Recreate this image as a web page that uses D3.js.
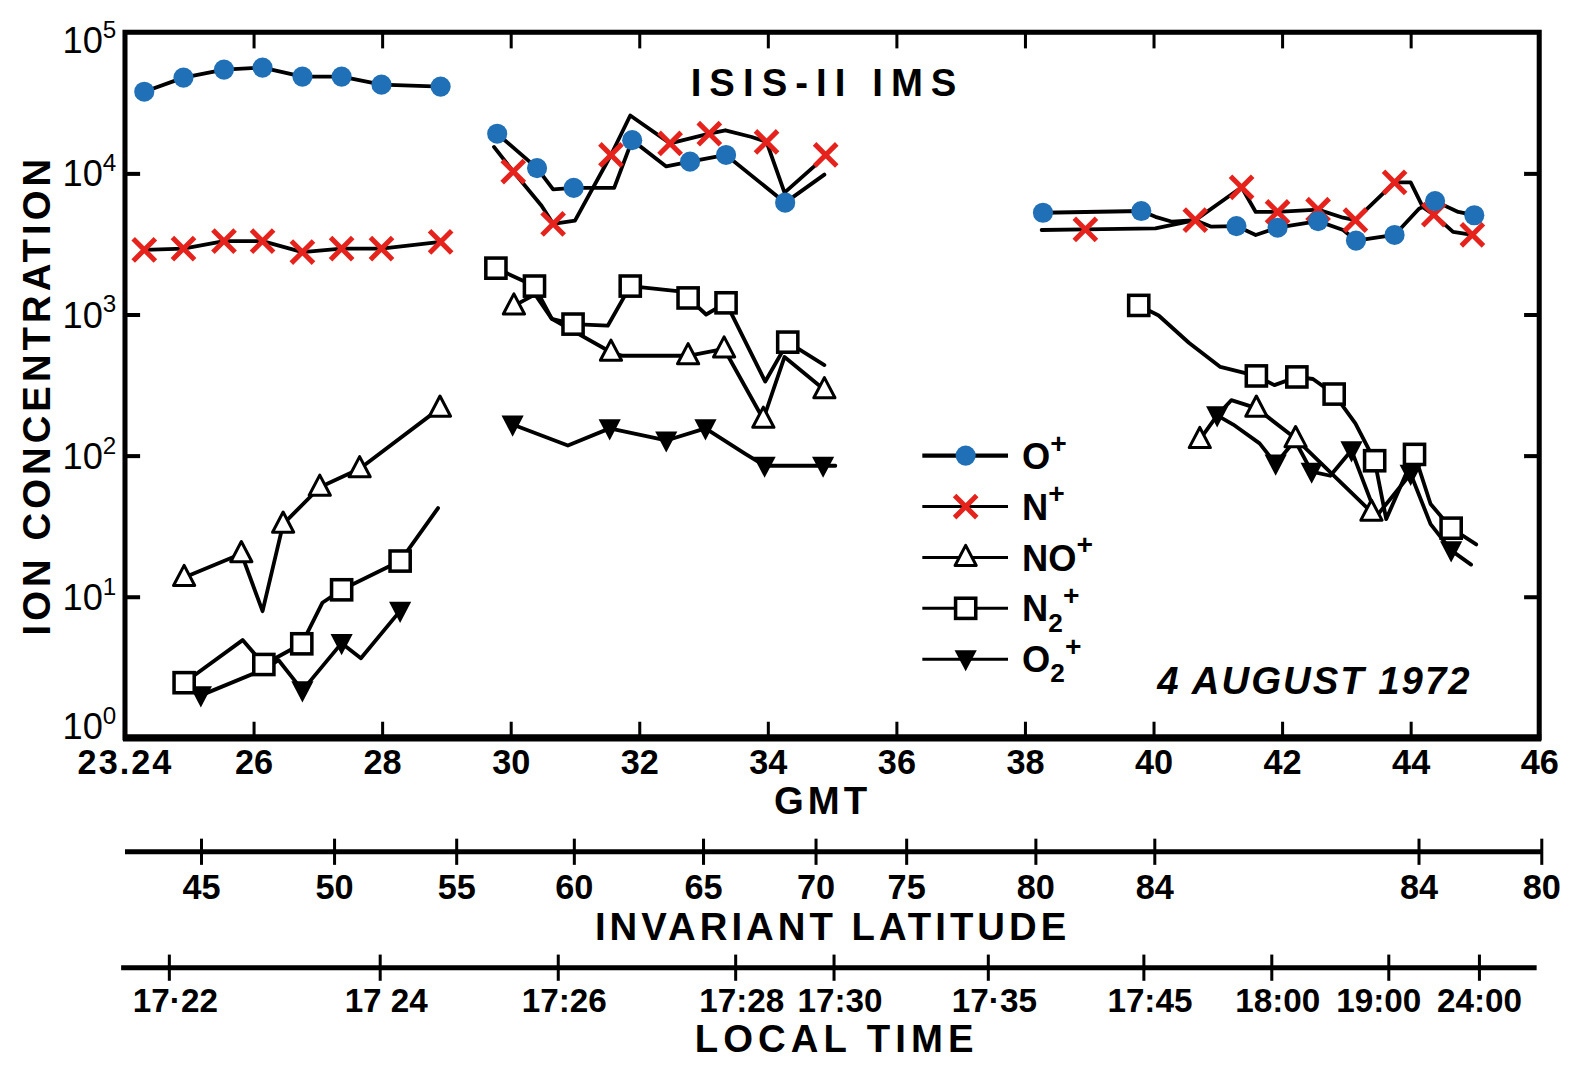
<!DOCTYPE html>
<html>
<head>
<meta charset="utf-8">
<script src="https://cdn.jsdelivr.net/npm/d3@7"></script>
<style>
html,body{margin:0;padding:0;background:#fff;overflow:hidden;}
svg{display:block;}
text{font-family:"Liberation Sans",Arial,"DejaVu Sans",sans-serif;font-weight:bold;fill:#000;}
</style>
</head>
<body>
<div id="chart"></div>
<script>
// GMT is given as minutes after 23:00 ; each point is [gmt, concentration, measured(1)/drawn vertex(0)]
const gmtTicks = [24,26,28,30,32,34,36,38,40,42,44,46];
const gmtTickLabels = ["23.24","26","28","30","32","34","36","38","40","42","44","46"];
const decades = [1,10,100,1000,10000,100000];
const decadeExponents = ["0","1","2","3","4","5"];

const ionBase = ["O","N","NO","N","O"];
const ionSub = ["","","","2","2"];

const oPlus = [
  [[24.30,37900,1],[24.91,47700,1],[25.54,54400,1],[26.14,56200,1],[26.76,48500,1],[27.37,48500,1],[27.99,42500,1],[28.91,41200,1]],
  [[29.79,19100,1],[30.41,10900,1],[30.66,7700,0],[30.98,7900,1],[31.61,7900,0],[31.89,17200,1],[32.42,11200,0],[32.79,12100,1],[33.35,13500,1],[34.27,6200,1],[34.88,9800,0]],
  [[38.28,5260,1],[39.81,5410,1],[40.03,4920,0],[40.29,4540,0],[40.65,4660,0],[40.90,4190,0],[41.29,4230,1],[41.59,3660,0],[41.93,4120,1],[42.56,4590,1],[42.95,3970,0],[43.15,3340,1],[43.75,3660,1],[44.13,5620,0],[44.38,6360,1],[44.74,5330,0],[44.99,5050,1]]
];
const nPlus = [
  [[24.30,2870,1],[24.91,2930,1],[25.54,3310,1],[26.14,3310,1],[26.76,2770,1],[27.37,2930,1],[27.99,2930,1],[28.91,3270,1]],
  [[29.74,15400,0],[30.04,10300,1],[30.48,5900,0],[30.66,4390,1],[31.00,4620,0],[31.56,13500,1],[31.86,25700,0],[32.48,16300,1],[33.09,19100,1],[33.34,20200,0],[33.75,18100,0],[33.98,16700,1],[34.26,7300,0],[34.72,11200,0],[34.90,13500,1]],
  [[38.26,3970,0],[38.94,4010,1],[40.03,4080,0],[40.65,4660,1],[41.37,7970,1],[41.59,5330,0],[41.93,5330,1],[42.56,5530,1],[42.95,4850,0],[43.14,4660,1],[43.75,8640,1],[44.00,8640,0],[44.19,5770,0],[44.36,5100,1],[44.66,3850,0],[44.96,3670,1]]
];
const noPlus = [
  [[24.92,13.7,1],[25.81,20.2,1],[26.14,7.9,0],[26.46,32.7,1],[27.03,59.7,1],[27.65,80.7,1],[28.90,217,1]],
  [[30.05,1150,1],[30.38,1390,0],[30.64,930,0],[31.56,540,1],[31.74,510,0],[32.76,510,1],[33.32,570,1],[33.93,181,1],[34.26,500,0],[34.88,293,1]],
  [[40.72,130,1],[40.99,193,0],[41.21,247,0],[41.60,217,1],[42.21,132,1],[43.39,39.8,1]]
];
const n2Plus = [
  [[24.92,2.46,1],[25.83,4.93,0],[26.16,3.31,1],[26.75,4.64,1],[27.07,9.06,0],[27.37,11.2,1],[28.28,17.9,1],[28.87,42.5,0]],
  [[29.77,2130,1],[30.37,1590,1],[30.64,930,0],[30.97,855,1],[31.51,833,0],[31.86,1590,1],[32.63,1460,0],[32.76,1310,1],[33.04,1000,0],[33.35,1210,1],[33.96,335,0],[34.31,637,1],[34.88,438,0]],
  [[39.77,1160,1],[40.08,984,0],[40.55,631,0],[41.04,425,0],[41.60,367,1],[41.88,316,0],[42.23,361,1],[42.48,349,0],[42.81,273,1],[43.14,169,0],[43.44,92,1],[43.62,35.5,0],[44.06,102,1],[44.31,45.4,0],[44.63,30.6,1],[45.02,23.5,0]]
];
const o2Plus = [
  [[25.18,2.0,1],[26.16,3.06,0],[26.39,3.55,0],[26.76,2.17,1],[27.37,4.69,1],[27.67,3.67,0],[28.28,7.94,1]],
  [[30.03,166,1],[30.89,118,0],[31.54,156,1],[32.42,128,1],[33.03,156,1],[33.65,103,0],[33.95,84.8,1],[34.86,84.8,1],[35.05,84.8,0]],
  [[40.99,193,1],[41.24,166,0],[41.65,122,0],[41.90,87.7,1],[42.20,128,0],[42.46,76.9,1],[42.75,72,0],[43.08,109,1],[43.47,37.3,0],[44.00,74.3,1],[44.31,32.7,0],[44.63,21.3,1],[44.94,16.9,0]]
];

// secondary scales, placed at the GMT they correspond to
const latAxisSpan = [24, 46.04];
const latTickGmt = [25.19,27.26,29.16,30.99,33.0,34.75,36.16,38.17,40.02,44.13,46.04];
const latTickLabels = ["45","50","55","60","65","70","75","80","84","84","80"];
const localAxisSpan = [23.94, 45.96];
const localTickGmt = [24.69,27.97,30.74,33.50,35.03,37.43,39.85,41.84,43.66,45.07];
const localTickLabels = ["17·22","17 24","17:26","17:28","17:30","17·35","17:45","18:00","19:00","24:00"];

const x = d3.scaleLinear().domain([24,46]).range([124,1527]);
const y = d3.scaleLog().domain([1,1e5]).range([732,32]);

const svg = d3.select("#chart").append("svg")
    .attr("width",1581).attr("height",1067)
    .append("g").attr("transform","scale(1.008)");

// frame
svg.append("rect")
    .attr("x",x(24)).attr("y",y(1e5))
    .attr("width",x(46)-x(24)).attr("height",y(1)-y(1e5))
    .attr("fill","none").attr("stroke","#000").attr("stroke-width",5);
svg.append("line")
    .attr("x1",x(24)-2).attr("x2",x(46)+2).attr("y1",y(1)).attr("y2",y(1))
    .attr("stroke","#000").attr("stroke-width",7);

// GMT axis
const gx = svg.append("g").attr("transform","translate(0,"+y(1)+")")
    .call(d3.axisBottom(x).tickValues(gmtTicks).tickFormat((d,i)=>gmtTickLabels[i])
        .tickSizeInner(-16).tickSizeOuter(0).tickPadding(12));
gx.select(".domain").remove();
gx.selectAll(".tick line").attr("stroke-width",3).filter(d=>d===24||d===46).remove();
gx.selectAll(".tick text").style("font-size","34px").attr("letter-spacing",d=>d===24?2:0);

const gt = svg.append("g").attr("transform","translate(0,"+y(1e5)+")")
    .call(d3.axisTop(x).tickValues(gmtTicks.slice(1,-1)).tickFormat("").tickSizeInner(-16).tickSizeOuter(0));
gt.select(".domain").remove();
gt.selectAll(".tick line").attr("stroke-width",3);

// log axes, ticks inside on both sides
const gl = svg.append("g").attr("transform","translate("+x(24)+",0)")
    .call(d3.axisLeft(y).tickValues(decades.slice(1,-1)).tickFormat("").tickSizeInner(-15).tickSizeOuter(0));
gl.select(".domain").remove();
gl.selectAll(".tick line").attr("stroke-width",4);
const gr = svg.append("g").attr("transform","translate("+x(46)+",0)")
    .call(d3.axisRight(y).tickValues(decades.slice(1,-1)).tickFormat("").tickSizeInner(-15).tickSizeOuter(0));
gr.select(".domain").remove();
gr.selectAll(".tick line").attr("stroke-width",4);

const ylab = svg.append("g").selectAll("text").data(decades).join("text")
    .attr("x",62)
    .attr("y",d=>Math.min(Math.max(y(d),40),720)+13)
    .style("font-size","36px").style("font-weight","normal");
ylab.append("tspan").text("10");
ylab.append("tspan").attr("dy",-15).style("font-size","24px").text((d,i)=>decadeExponents[i]);

svg.append("text").attr("transform","translate(50,392) rotate(-90)")
    .attr("text-anchor","middle").attr("letter-spacing",4)
    .style("font-size","38px").text("ION  CONCENTRATION");

svg.append("text").attr("x",816).attr("y",808).attr("text-anchor","middle")
    .attr("letter-spacing",4).style("font-size","38px").text("GMT");

svg.append("text").attr("x",821).attr("y",95).attr("text-anchor","middle")
    .attr("letter-spacing",8).style("font-size","38px").text("ISIS-II IMS");

svg.append("text").attr("x",1304).attr("y",688).attr("text-anchor","middle")
    .attr("letter-spacing",2).style("font-size","38px").style("font-style","italic")
    .text("4 AUGUST 1972");

// series
const line = d3.line().x(d=>x(d[0])).y(d=>y(d[1]));
const series = [
  {segs:oPlus, marker:"circle"},
  {segs:nPlus, marker:"cross"},
  {segs:noPlus, marker:"tri"},
  {segs:n2Plus, marker:"square"},
  {segs:o2Plus, marker:"dtri"}
];

function drawMarker(g, type){
  if(type==="circle"){
    g.append("circle").attr("r",10).attr("fill","#1f70b6");
  } else if(type==="cross"){
    g.append("path").attr("d","M-11,-11L11,11M11,-11L-11,11")
      .attr("stroke","#e5231c").attr("stroke-width",5).attr("fill","none");
  } else if(type==="tri"){
    g.append("path").attr("d","M0,-12L10.5,8L-10.5,8Z")
      .attr("fill","#fff").attr("stroke","#000").attr("stroke-width",3).attr("stroke-linejoin","round");
  } else if(type==="square"){
    g.append("rect").attr("x",-10).attr("y",-10).attr("width",20).attr("height",20)
      .attr("fill","#fff").attr("stroke","#000").attr("stroke-width",3.5);
  } else if(type==="dtri"){
    g.append("path").attr("d","M-11,-9L11,-9L0,12Z").attr("fill","#000");
  }
}

const linesG = svg.append("g");
series.forEach(s=>{
  s.segs.forEach(seg=>{
    linesG.append("path").attr("d",line(seg))
      .attr("fill","none").attr("stroke","#000").attr("stroke-width",3.8)
      .attr("stroke-linejoin","round").attr("stroke-linecap","round");
  });
});
const markG = svg.append("g");
series.slice().reverse().forEach(s=>{
  s.segs.forEach(seg=>{
    seg.filter(d=>d[2]===1).forEach(d=>{
      const g = markG.append("g").attr("transform","translate("+x(d[0])+","+y(d[1])+")");
      drawMarker(g, s.marker);
    });
  });
});

// legend
const legend = svg.append("g");
series.forEach((s,i)=>{
  const ry = 452 + i*50.5;
  legend.append("line").attr("x1",915).attr("x2",1000).attr("y1",ry).attr("y2",ry)
    .attr("stroke","#000").attr("stroke-width",i===0?4:3);
  const g = legend.append("g").attr("transform","translate(958,"+ry+")");
  drawMarker(g, s.marker);
  const t = legend.append("text").attr("x",1014).attr("y",ry+13).style("font-size","36px");
  t.append("tspan").text(ionBase[i]);
  if(ionSub[i]){
    t.append("tspan").attr("dy",10).style("font-size","26px").text(ionSub[i]);
    t.append("tspan").attr("dy",-26).style("font-size","28px").text("+");
  } else {
    t.append("tspan").attr("dy",-16).style("font-size","28px").text("+");
  }
});

// invariant latitude scale
const latY = 845;
svg.append("line").attr("x1",x(latAxisSpan[0])).attr("x2",x(latAxisSpan[1]))
  .attr("y1",latY).attr("y2",latY).attr("stroke","#000").attr("stroke-width",5);
svg.append("g").selectAll("line").data(latTickGmt).join("line")
  .attr("x1",d=>x(d)).attr("x2",d=>x(d)).attr("y1",latY-13).attr("y2",latY+13)
  .attr("stroke","#000").attr("stroke-width",3);
svg.append("g").selectAll("text").data(latTickGmt).join("text")
  .attr("x",d=>x(d)).attr("y",latY+47).attr("text-anchor","middle")
  .style("font-size","34px").text((d,i)=>latTickLabels[i]);
svg.append("text").attr("x",826).attr("y",933).attr("text-anchor","middle")
  .attr("letter-spacing",4).style("font-size","38px").text("INVARIANT  LATITUDE");

// local time scale
const localY = 960;
svg.append("line").attr("x1",x(localAxisSpan[0])).attr("x2",x(localAxisSpan[1]))
  .attr("y1",localY).attr("y2",localY).attr("stroke","#000").attr("stroke-width",5);
svg.append("g").selectAll("line").data(localTickGmt).join("line")
  .attr("x1",d=>x(d)).attr("x2",d=>x(d)).attr("y1",localY-13).attr("y2",localY+13)
  .attr("stroke","#000").attr("stroke-width",3);
svg.append("g").selectAll("text").data(localTickGmt).join("text")
  .attr("x",d=>x(d)).attr("y",localY+44).attr("text-anchor","middle")
  .attr("dx",(d,i)=>i===8?-10:(i<8?6:0))
  .style("font-size","33px").text((d,i)=>localTickLabels[i]);
svg.append("text").attr("x",830).attr("y",1044).attr("text-anchor","middle")
  .attr("letter-spacing",5).style("font-size","38px").text("LOCAL  TIME");
</script>
</body>
</html>
